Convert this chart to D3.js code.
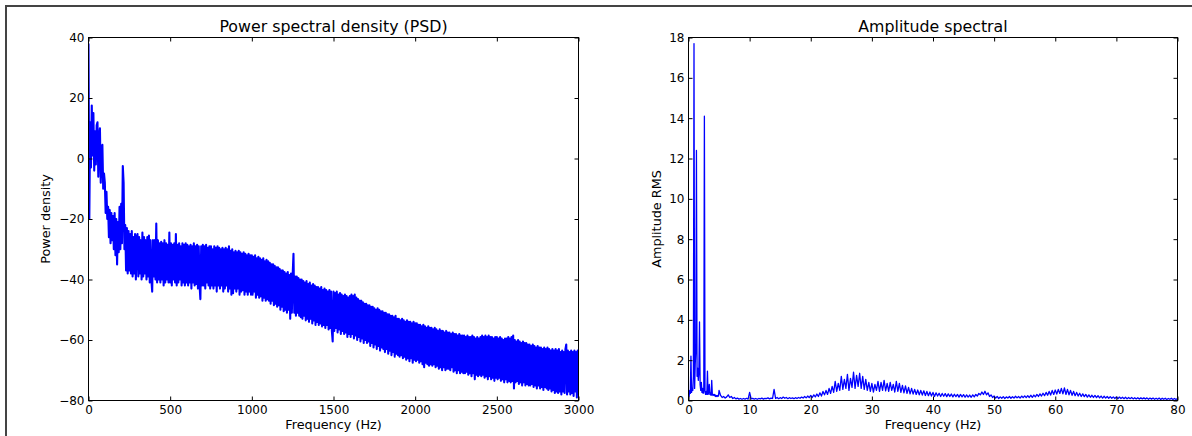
<!DOCTYPE html>
<html>
<head>
<meta charset="utf-8">
<script src="https://cdn.jsdelivr.net/npm/d3@7"></script>
<style>
  html, body { margin: 0; padding: 0; background: #ffffff; }
  svg { display: block; font-family: "DejaVu Sans", sans-serif; }
</style>
</head>
<body>
<svg id="chart" width="1192" height="436"></svg>
<script>
// ---------------- DATA ----------------
// Power spectral density, one value every 5 Hz from 0 to 3000 Hz
const psdStepHz = 5;
const psdValues = [
  38, -20, 12, -3, 17.5, 1, 15, -4, 9, -2, 11, 12, -6, 7, 10, -8, 2, 4.5, -10, -5,
  -8, -18, -11, -20, -16, -26, -17, -28, -18, -27, -19, -30, -18, -32, -20, -35, -21, -31, -16, -30,
  -15, -28, -2.5, -8, -30, -22, -37, -23, -38, -24, -37, -25, -38, -24, -39, -26, -38, -25, -40, -26,
  -25, -39, -26, -38, -27, -40, -24.5, -39, -26, -38, -27, -40, -26, -39, -25.5, -41, -27, -40, -44, -27,
  -39, -27, -40, -21.5, -41, -27, -40, -28, -41, -27.5, -40, -28, -42, -27, -41, -28, -40, -28.5, -41, -24.5,
  -41, -28, -42, -28.5, -40, -28, -41, -25, -42, -28.5, -41, -28, -40, -29, -42, -28, -41, -28.5, -42, -28,
  -41, -28.5, -42, -29, -41, -28.5, -43, -29, -41, -28, -42, -29, -41.5, -28.5, -43, -29, -42, -46.5, -29, -42,
  -28.5, -42, -29, -43, -28.5, -41, -29.5, -42, -29, -43, -29, -42, -30, -43, -29, -42, -29.5, -44, -29, -42,
  -29.5, -43, -30, -42, -29.5, -44, -30, -43, -29.5, -42, -30, -44, -29, -43, -30.5, -45, -30, -44.5, -31, -43,
  -30.5, -44, -31, -43, -30.5, -45, -31, -44, -31.5, -43.5, -31, -45, -31.5, -44, -32, -45, -31.5, -44, -32, -45,
  -32, -45, -32.5, -44, -32, -46, -33, -45, -32.5, -46, -33, -45.5, -33.5, -47, -33, -46, -34, -47, -33.5, -46.5,
  -34, -47, -34.5, -48, -35, -47, -35, -48.5, -35.5, -48, -36, -49, -36, -48.5, -36.5, -50, -37, -49, -37, -50.5,
  -37.5, -50, -38, -51, -37.5, -50, -38.5, -53, -38, -51, -38.5, -31.5, -51, -39, -52, -39, -51, -39.5, -52, -40,
  -52.5, -40, -53, -40.5, -52, -41, -53.5, -40.5, -53, -41.5, -54, -41, -53, -42, -54.5, -41.5, -53.5, -42, -55, -42.5,
  -54, -42.5, -55, -43, -54.5, -42.5, -55.5, -43.5, -55, -43, -56, -43.5, -55, -44, -56.5, -43.5, -56, -44, -57, -60.5,
  -44, -57, -44.5, -56, -44, -57.5, -45, -56.5, -44.5, -58, -45, -57, -45.5, -58, -45, -57.5, -45.5, -59, -46, -58,
  -45.5, -59, -45, -58, -45.5, -59.5, -45, -58.5, -46, -60, -46.5, -59, -47, -60.5, -47, -59.5, -47.5, -61, -48, -60,
  -48, -61, -48.5, -60.5, -48.5, -62, -49, -61, -49, -62.5, -49.5, -61.5, -50, -63, -49.5, -62, -50, -63.5, -50.5, -62.5,
  -50.5, -63, -51, -64, -51, -63, -51.5, -64.5, -51.5, -63.5, -52, -65, -52, -64, -52.5, -65.5, -52, -64.5, -53, -65,
  -53, -65.5, -53.5, -65, -53, -66, -53.5, -65.5, -54, -66.5, -53.5, -66, -54, -67, -54, -66, -54.5, -67.5, -54, -66.5,
  -54.5, -67, -54.5, -66.5, -55, -67.5, -55, -67, -55.5, -68, -55, -69, -55.5, -67.5, -56, -68, -55.5, -68.5, -56, -68,
  -56, -68.5, -56.5, -68, -56, -69, -56.5, -68.5, -57, -69.5, -56.5, -69, -57, -70, -57, -69, -57.5, -70, -57, -69.5,
  -57.5, -69.5, -57.5, -70, -58, -69, -57.5, -70.5, -58, -70, -58, -71, -58.5, -70, -58, -71, -58.5, -70.5, -58.5, -71,
  -58.5, -71, -59, -70.5, -58.5, -71.5, -59, -71, -59, -72, -58.5, -71, -59, -73, -59.5, -71.5, -59, -72, -59.5, -71.5,
  -59, -72, -58.5, -71.5, -59, -72.5, -58.5, -72, -59, -73, -58.5, -72, -59, -73, -59, -72.5, -59.5, -73.5, -59, -72.5,
  -59, -73, -59.5, -72.5, -59, -73.5, -59.5, -73, -60, -74, -59.5, -73, -59.5, -74, -59, -73.5, -59.5, -74, -59, -73.5,
  -58.5, -76, -60, -74, -60.5, -73.5, -60, -74.5, -60.5, -74, -61, -75, -60.5, -74, -61, -75, -61, -74.5, -61.5, -75,
  -61.5, -75, -62, -74.5, -61.5, -75.5, -62, -75, -62.5, -76, -62, -75, -62.5, -76, -62.5, -75.5, -63, -76.5, -62.5, -75.5,
  -63, -76, -62.5, -76.5, -63, -76, -63.5, -77, -63, -76.5, -63.5, -77.5, -63, -77, -63.5, -77.5, -63, -77, -64, -78,
  -63.5, -77, -64, -77.5, -63, -61.5, -78, -63.5, -77, -64, -78, -63.5, -77.5, -64, -78.5, -63.5, -77, -64, -79, -63.5, -78
];
const psdXTicks = [0, 500, 1000, 1500, 2000, 2500, 3000];
const psdYTicks = [-80, -60, -40, -20, 0, 20, 40];

// Amplitude spectrum: fine part 0-5 Hz every 0.1 Hz, then 5.25-80 Hz every 0.25 Hz
const ampLowStepHz = 0.1;
const ampLowValues = [
  0.3, 0.2, 0.5, 0.35, 2.2, 0.4, 0.6, 0.5, 1.2, 17.7,
  0.6, 1.8, 2.5, 12.4, 1.2, 1.6, 1.0, 1.4, 3.9, 0.8,
  0.5, 0.9, 0.4, 0.6, 0.35, 0.5, 14.1, 0.4, 0.3, 0.45,
  0.3, 1.45, 0.3, 0.4, 0.8, 0.3, 0.35, 0.25, 1.0, 0.3,
  0.25, 0.3, 0.25, 0.3, 0.2, 0.25, 0.2, 0.25, 0.2, 0.22, 0.5
];
const ampHighStartHz = 5.25;
const ampHighStepHz = 0.25;
const ampHighValues = [
  0.25, 0.15, 0.2, 0.12, 0.18, 0.28, 0.15, 0.2, 0.1, 0.15, 0.08, 0.12, 0.07, 0.1, 0.06, 0.1, 0.07, 0.11, 0.07, 0.4,
  0.08, 0.11, 0.07, 0.1, 0.06, 0.1, 0.08, 0.12, 0.07, 0.11, 0.09, 0.13, 0.08, 0.12, 0.1, 0.55, 0.1, 0.15, 0.09, 0.14,
  0.1, 0.17, 0.11, 0.15, 0.09, 0.14, 0.1, 0.13, 0.09, 0.14, 0.1, 0.15, 0.11, 0.17, 0.12, 0.2, 0.13, 0.22, 0.14, 0.25,
  0.15, 0.28, 0.18, 0.32, 0.2, 0.38, 0.22, 0.45, 0.28, 0.5, 0.3, 0.6, 0.35, 0.7, 0.4, 0.95, 0.45, 0.85, 0.5, 1.2,
  0.55, 1.05, 0.6, 1.3, 0.5, 1.1, 0.65, 1.4, 0.6, 1.25, 0.7, 1.35, 0.6, 1.2, 0.55, 1.05, 0.5, 0.9, 0.45, 0.85,
  0.42, 0.8, 0.5, 0.95, 0.45, 0.9, 0.5, 1.0, 0.48, 0.85, 0.45, 0.9, 0.5, 0.8, 0.42, 0.95, 0.45, 0.85, 0.4, 0.75,
  0.38, 0.72, 0.35, 0.65, 0.33, 0.6, 0.32, 0.55, 0.3, 0.52, 0.28, 0.5, 0.27, 0.48, 0.25, 0.45, 0.24, 0.42, 0.22, 0.4,
  0.2, 0.38, 0.22, 0.36, 0.2, 0.35, 0.21, 0.34, 0.19, 0.33, 0.2, 0.32, 0.18, 0.31, 0.19, 0.3, 0.17, 0.3, 0.18, 0.29,
  0.16, 0.28, 0.17, 0.27, 0.16, 0.28, 0.18, 0.3, 0.22, 0.35, 0.28, 0.42, 0.3, 0.46, 0.28, 0.38, 0.2, 0.28, 0.15, 0.22,
  0.12, 0.2, 0.1, 0.18, 0.11, 0.19, 0.1, 0.18, 0.12, 0.2, 0.11, 0.19, 0.12, 0.21, 0.13, 0.2, 0.12, 0.22, 0.14, 0.23,
  0.14, 0.24, 0.15, 0.26, 0.16, 0.27, 0.18, 0.3, 0.2, 0.33, 0.22, 0.36, 0.24, 0.4, 0.26, 0.45, 0.27, 0.5, 0.3, 0.52,
  0.32, 0.55, 0.35, 0.6, 0.33, 0.62, 0.3, 0.55, 0.28, 0.5, 0.26, 0.45, 0.24, 0.4, 0.22, 0.36, 0.2, 0.33, 0.19, 0.3,
  0.17, 0.28, 0.16, 0.26, 0.15, 0.25, 0.14, 0.24, 0.13, 0.22, 0.12, 0.21, 0.12, 0.2, 0.11, 0.19, 0.11, 0.18, 0.1, 0.18,
  0.09, 0.17, 0.1, 0.16, 0.09, 0.16, 0.08, 0.15, 0.09, 0.15, 0.08, 0.14, 0.08, 0.14, 0.07, 0.13, 0.08, 0.13, 0.07, 0.13,
  0.06, 0.12, 0.07, 0.12, 0.06, 0.11, 0.06, 0.12, 0.05, 0.11, 0.06, 0.11, 0.05, 0.1, 0.06, 0.11, 0.05, 0.1, 0.05, 0.1
];
const ampXTicks = [0, 10, 20, 30, 40, 50, 60, 70, 80];
const ampYTicks = [0, 2, 4, 6, 8, 10, 12, 14, 16, 18];

// ---------------- DRAW ----------------
const svg = d3.select("#chart");
svg.append("rect").attr("width", 1192).attr("height", 436).attr("fill", "#fff");

// outer frame (top and left edges)
svg.append("line").attr("x1", 5).attr("x2", 1192).attr("y1", 6).attr("y2", 6)
  .attr("stroke", "#444").attr("stroke-width", 2);
svg.append("line").attr("x1", 6).attr("x2", 6).attr("y1", 5).attr("y2", 436)
  .attr("stroke", "#444").attr("stroke-width", 2);

const fmt = d3.format("");

function panel(opts) {
  const { id, left, right, top, bottom, xDomain, yDomain, xTicks, yTicks, series,
          title, xLabel, yLabel, yLabelX, lineWidth } = opts;
  const x = d3.scaleLinear().domain(xDomain).range([left, right]);
  const y = d3.scaleLinear().domain(yDomain).range([bottom, top]);
  const g = svg.append("g");

  g.append("clipPath").attr("id", id).append("rect")
    .attr("x", left).attr("y", top).attr("width", right - left).attr("height", bottom - top);

  const line = d3.line().x(d => x(d[0])).y(d => y(d[1]));
  g.append("path").datum(series)
    .attr("clip-path", `url(#${id})`)
    .attr("fill", "none").attr("stroke", "#0000ff").attr("stroke-width", lineWidth)
    .attr("stroke-linejoin", "round")
    .attr("d", line);

  const tick = 4;
  const styleAxis = sel => {
    sel.select(".domain").remove();
    sel.selectAll(".tick line").attr("stroke", "#000");
    sel.selectAll(".tick text").attr("fill", "#000")
      .style("font-family", '"DejaVu Sans", sans-serif').style("font-size", "12px");
  };
  g.append("g").attr("transform", `translate(0,${bottom})`)
    .call(d3.axisBottom(x).tickValues(xTicks).tickFormat(fmt).tickSizeInner(-tick).tickSizeOuter(0).tickPadding(5))
    .call(styleAxis);
  g.append("g").attr("transform", `translate(0,${top})`)
    .call(d3.axisTop(x).tickValues(xTicks).tickFormat("").tickSizeInner(-tick).tickSizeOuter(0))
    .call(styleAxis);
  g.append("g").attr("transform", `translate(${left},0)`)
    .call(d3.axisLeft(y).tickValues(yTicks).tickFormat(fmt).tickSizeInner(-tick).tickSizeOuter(0).tickPadding(4))
    .call(styleAxis);
  g.append("g").attr("transform", `translate(${right},0)`)
    .call(d3.axisRight(y).tickValues(yTicks).tickFormat("").tickSizeInner(-tick).tickSizeOuter(0))
    .call(styleAxis);

  g.append("rect").attr("x", left).attr("y", top)
    .attr("width", right - left).attr("height", bottom - top)
    .attr("fill", "none").attr("stroke", "#000").attr("stroke-width", 1);

  g.append("text").attr("x", (left + right) / 2).attr("y", top - 6)
    .attr("text-anchor", "middle").style("font-size", "15.8px").text(title);
  g.append("text").attr("x", (left + right) / 2).attr("y", bottom + 28)
    .attr("text-anchor", "middle").style("font-size", "12.8px").text(xLabel);
  g.append("text")
    .attr("transform", `translate(${yLabelX},${(top + bottom) / 2}) rotate(-90)`)
    .attr("text-anchor", "middle").style("font-size", "12.8px").text(yLabel);
}

const psdSeries = psdValues.map((v, i) => [i * psdStepHz, v]);
const ampSeries = ampLowValues.map((v, i) => [i * ampLowStepHz, v])
  .concat(ampHighValues.map((v, i) => [ampHighStartHz + i * ampHighStepHz, v]));

panel({
  id: "clipPsd", left: 88.5, right: 578.5, top: 37.5, bottom: 400.5,
  xDomain: [0, 3000], yDomain: [-80, 40], xTicks: psdXTicks, yTicks: psdYTicks,
  series: psdSeries, title: "Power spectral density (PSD)",
  xLabel: "Frequency (Hz)", yLabel: "Power density", yLabelX: 50, lineWidth: 2.1
});
panel({
  id: "clipAmp", left: 688.5, right: 1177.5, top: 37.5, bottom: 400.5,
  xDomain: [0, 80], yDomain: [0, 18], xTicks: ampXTicks, yTicks: ampYTicks,
  series: ampSeries, title: "Amplitude spectral",
  xLabel: "Frequency (Hz)", yLabel: "Amplitude RMS", yLabelX: 661, lineWidth: 1.3
});
</script>
</body>
</html>
